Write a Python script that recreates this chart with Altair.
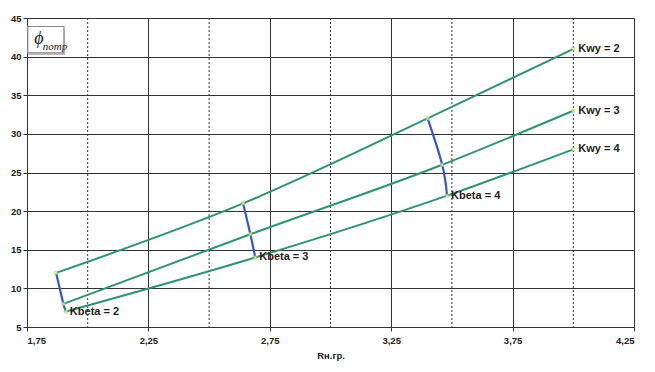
import altair as alt
import pandas as pd

# ---- data ----
x_kwy2 = [1.87, 2.64, 3.40, 4.00]
y_kwy2 = [12, 21, 32, 41]
x_kwy3 = [1.90, 2.67, 3.46, 4.00]
y_kwy3 = [8, 17, 26, 33]
x_kwy4 = [1.91, 2.69, 3.48, 4.00]
y_kwy4 = [7, 14, 22, 28]
kwy_names = ["Kwy = 2", "Kwy = 3", "Kwy = 4"]
kbeta_names = ["Kbeta = 2", "Kbeta = 3", "Kbeta = 4"]
x_ticks = [1.75, 2.25, 2.75, 3.25, 3.75, 4.25]
dotted_x = [2.0, 2.5, 3.0, 3.5, 4.0]
y_ticks = [5, 10, 15, 20, 25, 30, 35, 40, 45]

series = [(kwy_names[0], x_kwy2, y_kwy2), (kwy_names[1], x_kwy3, y_kwy3), (kwy_names[2], x_kwy4, y_kwy4)]

rows = []
for name, xs, ys in series:
    for i, (a, b) in enumerate(zip(xs, ys)):
        rows.append({"s": name, "i": i, "x": a, "y": b})
curves = pd.DataFrame(rows)

brows = []
for k in range(3):
    for j, (name, xs, ys) in enumerate(series):
        brows.append({"s": kbeta_names[k], "i": j, "x": xs[k], "y": ys[k]})
blue = pd.DataFrame(brows)

kwy_lab = pd.DataFrame({"t": kwy_names, "x": [xs[-1] for _, xs, _ in series], "y": [ys[-1] for _, _, ys in series]})
kbeta_lab = pd.DataFrame({"t": kbeta_names, "x": x_kwy4[:3], "y": y_kwy4[:3]})

xs_ = alt.Scale(domain=[1.75, 4.25], nice=False, zero=False)
ys_ = alt.Scale(domain=[5, 45], nice=False, zero=False)
FONT = "Liberation Sans"

xaxis = alt.Axis(values=x_ticks, grid=True, gridColor="#333", gridWidth=1, labelOverlap=False,
                 labelExpr="replace(format(datum.value, '.2f'), '.', ',')",
                 labelFont=FONT, labelFontWeight="bold", labelFontSize=9.5, labelColor="#222",
                 domainColor="#333", tickColor="#333", tickSize=4, labelPadding=4,
                 titleFont=FONT, titleFontSize=9.5, titleFontWeight="bold", titleColor="#222",
                 titlePadding=6)
yaxis = alt.Axis(values=y_ticks, grid=True, gridColor="#333", gridWidth=1, labelOverlap=False,
                 labelFont=FONT, labelFontWeight="bold", labelFontSize=9.5, labelColor="#222",
                 domainColor="#333", tickColor="#333", tickSize=4, labelPadding=2)


def X(f="x"):
    return alt.X(f + ":Q", scale=xs_, title="Rн.гр.", axis=xaxis)


def Y(f="y"):
    return alt.Y(f + ":Q", scale=ys_, title=None, axis=yaxis)


base = alt.Chart(curves)

dots = alt.Chart(pd.DataFrame({"x": dotted_x})).mark_rule(
    color="#333", strokeDash=[2, 2], strokeWidth=1).encode(x=X())

shadow = alt.Chart(pd.DataFrame({"x": [1.757], "x2": [1.906], "y": [40.2], "y2": [43.6]})).mark_rect(
    fill="#bbbbbb").encode(x=X(), x2="x2:Q", y=Y(), y2="y2:Q")
box = alt.Chart(pd.DataFrame({"x": [1.753], "x2": [1.902], "y": [40.5], "y2": [43.9]})).mark_rect(
    fill="white", stroke="#888", strokeWidth=1.2).encode(x=X(), x2="x2:Q", y=Y(), y2="y2:Q")
phi = alt.Chart(pd.DataFrame({"x": [1.799], "y": [42.3], "t": ["ϕ"]})).mark_text(
    font="Liberation Serif", fontStyle="italic", fontSize=18, color="#222").encode(
    x=X(), y=Y(), text="t:N")
sub = alt.Chart(pd.DataFrame({"x": [1.815], "y": [41.3], "t": ["потр"]})).mark_text(
    font="Liberation Serif", fontStyle="italic", fontSize=11, align="left", color="#222").encode(
    x=X(), y=Y(), text="t:N")

green = base.mark_line(color="#2e9470", strokeWidth=2, interpolate="monotone").encode(
    x=X(), y=Y(), detail="s:N", order="i:Q")
bl = alt.Chart(blue).mark_line(color="#3355dd", strokeWidth=2.2, interpolate="cardinal").encode(
    x=X(), y=Y(), detail="s:N", order="i:Q")
pts = base.mark_point(filled=True, shape="square", size=10, fill="#ffff99", stroke="#99cc66",
                      strokeWidth=0.8).encode(x=X(), y=Y())

t1 = alt.Chart(kwy_lab).mark_text(align="left", dx=5, font=FONT, fontWeight="bold", fontSize=11,
                                  color="#222").encode(x=X(), y=Y(), text="t:N")
t2 = alt.Chart(kbeta_lab).mark_text(align="left", dx=4, font=FONT, fontWeight="bold", fontSize=11,
                                    color="#222").encode(x=X(), y=Y(), text="t:N")

chart = alt.layer(dots, shadow, box, phi, sub, green, bl, pts, t1, t2).properties(
    width=607, height=309,
    autosize=alt.AutoSizeParams(type="none"),
    padding={"left": 19, "top": 10, "right": 13, "bottom": 37},
    background="white",
).configure_view(stroke=None).configure_axis(labelOverlap=False)

chart.save("out.html", embed_options={"renderer": "svg", "actions": False})
